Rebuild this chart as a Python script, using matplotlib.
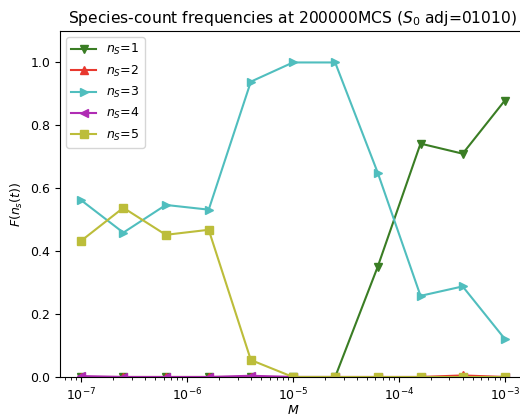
import numpy as np
import matplotlib
matplotlib.use('Agg')
import matplotlib.pyplot as plt

# mutation rate M (log spaced)
M = [1e-7, 2.5e-7, 6.3e-7, 1.6e-6, 4e-6, 1e-5, 2.5e-5, 6.3e-5, 1.6e-4, 4e-4, 1e-3]

f1 = [0.0, 0.0, 0.0, 0.0, 0.0, 0.0, 0.0, 0.35, 0.742, 0.71, 0.879]
f2 = [0.0, 0.0, 0.0, 0.0, 0.0, 0.0, 0.0, 0.0, 0.0, 0.005, 0.0]
f3 = [0.562, 0.459, 0.547, 0.532, 0.939, 1.0, 1.0, 0.65, 0.258, 0.288, 0.121]
f4 = [0.003, 0.0, 0.0, 0.0, 0.004, 0.0, 0.0, 0.0, 0.0, 0.0, 0.0]
f5 = [0.433, 0.538, 0.452, 0.468, 0.054, 0.0, 0.0, 0.0, 0.0, 0.0, 0.0]

series = [f1, f2, f3, f4, f5]
colors = ['#3a7d24', '#e8382e', '#50bebe', '#b02cb4', '#bcbd3a']
markers = ['v', '^', '>', '<', 's']

plt.rcParams['font.size'] = 9

fig = plt.figure(figsize=(5.2, 4.17), dpi=100)
ax = fig.add_axes([60/520, 40/417, 466/520, 346/417])

for i in range(5):
    ax.plot(M, series[i], color=colors[i], marker=markers[i], markersize=5.5,
            linewidth=1.5, label='$n_S$=%d' % (i + 1))

ax.set_xscale('log')
ax.set_xlim(10**-7.2, 10**-2.8)
ax.set_ylim(0, 1.1)
ax.set_xlabel('$M$', labelpad=0.5)
ax.set_ylabel('$F(n_s(t))$')
ax.set_title('Species-count frequencies at 200000MCS ($S_0$ adj=01010)', fontsize=11.2)
ax.legend(loc='upper left')

fig.savefig('out.png', dpi=100)
